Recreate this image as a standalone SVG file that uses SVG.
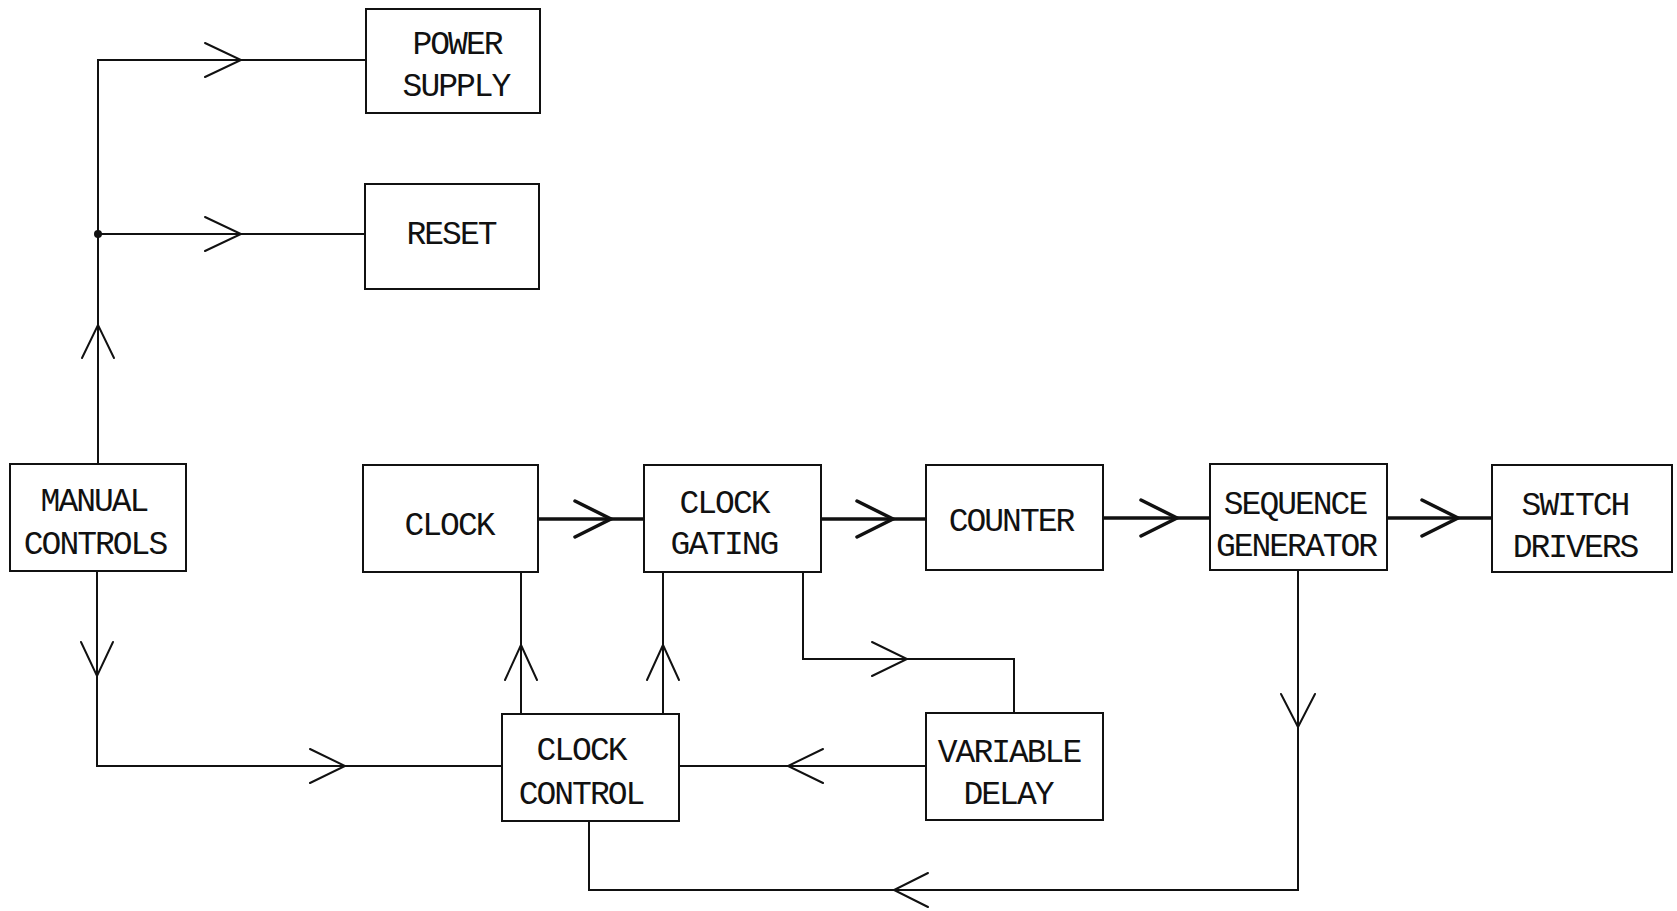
<svg xmlns="http://www.w3.org/2000/svg" width="1677" height="911" viewBox="0 0 1677 911">
<style>
  .box rect { fill: #fff; stroke: #111; stroke-width: 2; }
  .box text { font-family: "Liberation Mono", "DejaVu Sans Mono", monospace; font-size: 33px; letter-spacing: -2px; fill: #111; text-anchor: middle; }
  .wire { fill: none; stroke: #111; stroke-width: 2; stroke-linejoin: miter; }
  .bus { fill: none; stroke: #111; stroke-width: 3.5; }
  .ah { fill: none; stroke: #111; stroke-width: 2; stroke-linecap: round; stroke-linejoin: miter; }
  .ahb { fill: none; stroke: #111; stroke-width: 3.5; stroke-linecap: round; stroke-linejoin: miter; }
</style>
<rect width="1677" height="911" fill="#fff"/>
<g id="connectors">
  <polyline class="wire" points="98,464 98,60 366,60"/>
  <line class="wire" x1="98" y1="234" x2="365" y2="234"/>
  <circle cx="98" cy="234" r="4" fill="#111"/>
  <polyline class="ah" points="82,358 98,325 114,358"/>
  <polyline class="ah" points="205,43 241,60 205,77"/>
  <polyline class="ah" points="205,217 241,234 205,251"/>
  <polyline class="wire" points="97,571 97,766 502,766"/>
  <polyline class="ah" points="81,642 97,676 113,642"/>
  <polyline class="ah" points="310,749 345,766 310,783"/>
  <line class="bus" x1="538" y1="519" x2="644" y2="519"/>
  <polyline class="ahb" points="575,501 611,519 575,537"/>
  <line class="bus" x1="821" y1="519" x2="926" y2="519"/>
  <polyline class="ahb" points="857,501 893,519 857,537"/>
  <line class="bus" x1="1103" y1="518" x2="1210" y2="518"/>
  <polyline class="ahb" points="1141,500 1177,518 1141,536"/>
  <line class="bus" x1="1387" y1="518" x2="1492" y2="518"/>
  <polyline class="ahb" points="1422,500 1458,518 1422,536"/>
  <line class="wire" x1="521" y1="714" x2="521" y2="572"/>
  <polyline class="ah" points="505,680 521,645 537,680"/>
  <line class="wire" x1="663" y1="714" x2="663" y2="572"/>
  <polyline class="ah" points="647,680 663,645 679,680"/>
  <polyline class="wire" points="803,572 803,659 1014,659 1014,713"/>
  <polyline class="ah" points="872,642 907,659 872,676"/>
  <line class="wire" x1="926" y1="766" x2="679" y2="766"/>
  <polyline class="ah" points="823,749 788,766 823,783"/>
  <polyline class="wire" points="1298,570 1298,890 589,890 589,821"/>
  <polyline class="ah" points="1281,694 1298,727 1315,694"/>
  <polyline class="ah" points="928,873 894,890 928,907"/>
</g>
<g id="power-supply" class="box">
  <rect x="366" y="9" width="174" height="104"/>
  <text x="457" y="54">POWER</text>
  <text x="456" y="96">SUPPLY</text>
</g>
<g id="reset" class="box">
  <rect x="365" y="184" width="174" height="105"/>
  <text x="451" y="244">RESET</text>
</g>
<g id="manual-controls" class="box">
  <rect x="10" y="464" width="176" height="107"/>
  <text x="94" y="511">MANUAL</text>
  <text x="95" y="554">CONTROLS</text>
</g>
<g id="clock" class="box">
  <rect x="363" y="465" width="175" height="107"/>
  <text x="449" y="535">CLOCK</text>
</g>
<g id="clock-gating" class="box">
  <rect x="644" y="465" width="177" height="107"/>
  <text x="724" y="513">CLOCK</text>
  <text x="724" y="554">GATING</text>
</g>
<g id="counter" class="box">
  <rect x="926" y="465" width="177" height="105"/>
  <text x="1011" y="531">COUNTER</text>
</g>
<g id="sequence-generator" class="box">
  <rect x="1210" y="464" width="177" height="106"/>
  <text x="1295" y="514">SEQUENCE</text>
  <text x="1296" y="556">GENERATOR</text>
</g>
<g id="switch-drivers" class="box">
  <rect x="1492" y="465" width="180" height="107"/>
  <text x="1575" y="515">SWITCH</text>
  <text x="1575" y="557">DRIVERS</text>
</g>
<g id="clock-control" class="box">
  <rect x="502" y="714" width="177" height="107"/>
  <text x="581" y="760">CLOCK</text>
  <text x="581" y="804">CONTROL</text>
</g>
<g id="variable-delay" class="box">
  <rect x="926" y="713" width="177" height="107"/>
  <text x="1009" y="762">VARIABLE</text>
  <text x="1008" y="804">DELAY</text>
</g>
</svg>
